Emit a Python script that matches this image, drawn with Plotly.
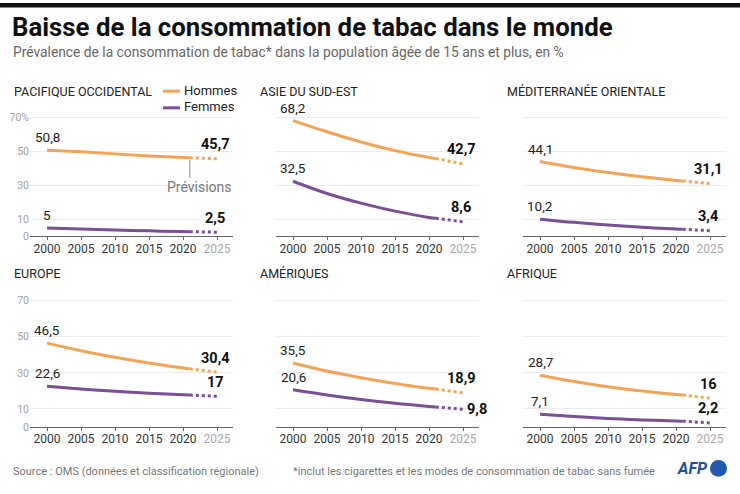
import plotly.graph_objects as go

W, H = 740, 494

# ---------------- data ----------------
years = [2000, 2005, 2010, 2015, 2020, 2021, 2025]
year_ticks = [2000, 2005, 2010, 2015, 2020, 2025]
y_ticks = [0, 10, 30, 50, 70]

regions = ["PACIFIQUE OCCIDENTAL", "ASIE DU SUD-EST", "MÉDITERRANÉE ORIENTALE",
           "EUROPE", "AMÉRIQUES", "AFRIQUE"]

pacifique_h = [50.8, 49.8, 48.6, 47.4, 46.5, 46.3, 45.7]
pacifique_f = [5.0, 4.4, 3.8, 3.3, 2.9, 2.85, 2.5]
asie_h = [68.2, 61.6, 55.6, 50.5, 46.5, 45.8, 42.7]
asie_f = [32.5, 25.3, 19.6, 14.9, 11.2, 10.7, 8.6]
medit_h = [44.1, 40.6, 37.6, 35.1, 33.0, 32.7, 31.1]
medit_f = [10.2, 8.3, 6.7, 5.4, 4.4, 4.25, 3.4]
europe_h = [46.5, 42.3, 38.7, 35.5, 32.7, 32.2, 30.4]
europe_f = [22.6, 21.1, 19.8, 18.7, 17.8, 17.7, 17.0]
ameriques_h = [35.5, 31.0, 27.3, 24.1, 21.4, 21.0, 18.9]
ameriques_f = [20.6, 17.7, 15.2, 13.1, 11.4, 11.1, 9.8]
afrique_h = [28.7, 25.2, 22.3, 19.9, 18.0, 17.7, 16.0]
afrique_f = [7.1, 5.8, 4.7, 3.9, 3.3, 3.2, 2.2]

hommes = [pacifique_h, asie_h, medit_h, europe_h, ameriques_h, afrique_h]
femmes = [pacifique_f, asie_f, medit_f, europe_f, ameriques_f, afrique_f]

# ---------------- style ----------------
ORANGE = "#F1A456"
PURPLE = "#7B4E96"
FONT = "Roboto"
DARK = "#222222"


def px(x):
    return x / W


def py(y):
    return 1 - y / H


def fmt(v):
    return f"{v:g}".replace(".", ",")


col_dom = [(30, 233), (276, 479), (523, 726)]
row_dom = [(113.4, 238.3), (300.2, 432.7)]
title_pos = [(12, 90), (258, 90), (505, 90), (12, 276), (258, 276), (505, 276)]

fig = go.Figure()
layout = dict(
    width=W, height=H, margin=dict(l=0, r=0, t=0, b=0),
    paper_bgcolor="white", plot_bgcolor="white",
    showlegend=False, font=dict(family=FONT, color=DARK),
)
annotations = []
shapes = []

for i in range(6):
    r, c = divmod(i, 3)
    sfx = "" if i == 0 else str(i + 1)
    xa, ya = "x" + sfx, "y" + sfx
    x0, x1 = col_dom[c]
    y0, y1 = row_dom[r]
    layout["xaxis" + sfx] = dict(
        domain=[px(x0), px(x1)], range=[1997.5, 2027.35], anchor=ya,
        tickvals=year_ticks,
        ticktext=[str(t) for t in year_ticks[:-1]] + ["<span style='color:#a8a8a8'>2025</span>"],
        ticks="outside", ticklen=3, tickcolor="#666", showgrid=False,
        showline=True, linecolor="#666", linewidth=1, zeroline=False,
        ticklabelstandoff=-2,
        tickfont=dict(size=12, color="#333", family=FONT), fixedrange=True,
    )
    if c == 0:
        ticktext = ["0", "10", "30", "50", "70%" if r == 0 else "70"]
    else:
        ticktext = [""] * 5
    layout["yaxis" + sfx] = dict(
        domain=[py(y1), py(y0)], range=[0, 72], anchor=xa,
        tickvals=y_ticks, ticktext=ticktext, showticklabels=(c == 0),
        showgrid=True, gridcolor="#ececec", gridwidth=1, zeroline=False,
        showline=False, ticks="", tickfont=dict(size=10.5, color="#a0a0a0", family=FONT),
        fixedrange=True,
    )

    for vals, color in ((hommes[i], ORANGE), (femmes[i], PURPLE)):
        fig.add_trace(go.Scatter(
            x=years[:6], y=vals[:6], mode="lines", xaxis=xa, yaxis=ya,
            line=dict(color=color, width=3, shape="spline"), hoverinfo="skip"))
        fig.add_trace(go.Scatter(
            x=years[5:], y=vals[5:], mode="lines", xaxis=xa, yaxis=ya,
            line=dict(color=color, width=3, dash="dot"), hoverinfo="skip"))
        # start label
        annotations.append(dict(
            x=years[0], y=vals[0], xref=xa, yref=ya, text=fmt(vals[0]),
            showarrow=False, yshift=13, font=dict(size=13.5, color=DARK, family=FONT)))
        # end label
        end = dict(x=years[-1], y=vals[-1], xref=xa, yref=ya,
                   text="<b>" + fmt(vals[-1]) + "</b>", showarrow=False,
                   font=dict(size=14.5, color="#111", family=FONT))
        if i == 4 and color == PURPLE:
            end.update(xanchor="left", xshift=2)
        else:
            end.update(yshift=14, xshift=-2)
        annotations.append(end)

    tx, ty = title_pos[i]
    annotations.append(dict(
        x=px(tx), y=py(ty), xref="paper", yref="paper", xanchor="left",
        yanchor="middle", text=regions[i], showarrow=False,
        font=dict(size=12.5, color=DARK, family=FONT)))

# legend (first panel)
for yy, label, color in ((90, "Hommes", ORANGE), (107, "Femmes", PURPLE)):
    shapes.append(dict(type="line", xref="paper", yref="paper",
                       x0=px(163), x1=px(180), y0=py(yy), y1=py(yy),
                       line=dict(color=color, width=3)))
    annotations.append(dict(x=px(182), y=py(yy - 1), xref="paper", yref="paper",
                            xanchor="left", yanchor="middle", text=label,
                            showarrow=False, font=dict(size=13, color=DARK, family=FONT)))

# "Prévisions" pointer
shapes.append(dict(type="line", xref="x", yref="y", x0=2021, x1=2021,
                   y0=pacifique_h[5] - 1.2, y1=34.5, line=dict(color="#888", width=1)))
annotations.append(dict(x=2022.4, y=29.0, xref="x", yref="y", text="Prévisions",
                        showarrow=False, font=dict(size=14, color="#777", family=FONT)))

# header
shapes.append(dict(type="rect", xref="paper", yref="paper", x0=0, x1=1,
                   y0=py(4.5), y1=1, fillcolor="#111", line=dict(width=0)))
annotations.append(dict(x=px(10), y=py(24), xref="paper", yref="paper", xanchor="left",
                        yanchor="middle", showarrow=False,
                        text="<b>Baisse de la consommation de tabac dans le monde</b>",
                        font=dict(size=25.8, color="#111", family=FONT)))
annotations.append(dict(x=px(11), y=py(50), xref="paper", yref="paper", xanchor="left",
                        yanchor="middle", showarrow=False,
                        text="Prévalence de la consommation de tabac* dans la population âgée de 15 ans et plus, en %",
                        font=dict(size=13.8, color="#666", family=FONT)))

# footer
annotations.append(dict(x=px(11), y=py(478), xref="paper", yref="paper", xanchor="left",
                        yanchor="middle", showarrow=False,
                        text="Source : OMS (données et classification régionale)",
                        font=dict(size=11, color="#777", family=FONT)))
annotations.append(dict(x=px(291), y=py(478), xref="paper", yref="paper", xanchor="left",
                        yanchor="middle", showarrow=False,
                        text="*inclut les cigarettes et les modes de consommation de tabac sans fumée",
                        font=dict(size=11, color="#777", family=FONT)))
annotations.append(dict(x=px(710), y=py(475), xref="paper", yref="paper", xanchor="right",
                        yanchor="middle", showarrow=False,
                        text="<b><i>AFP</i></b>", font=dict(size=16, color="#1f4e9a", family=FONT)))
shapes.append(dict(type="circle", xref="paper", yref="paper",
                   x0=px(710), x1=px(727), y0=py(483.5), y1=py(466.5),
                   fillcolor="#1f59b0", line=dict(width=0)))

layout["annotations"] = annotations
layout["shapes"] = shapes
fig.update_layout(**layout)
fig.write_html("out.html", config={"displayModeBar": False},
               post_script="document.body.style.margin='0';document.body.style.overflow='hidden';")
